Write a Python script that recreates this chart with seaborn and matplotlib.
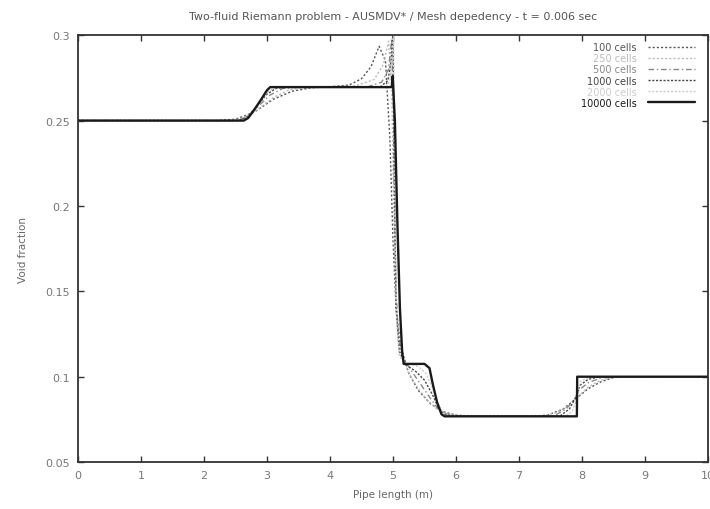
import numpy as np
import pandas as pd
import matplotlib
matplotlib.use("Agg")
import matplotlib.pyplot as plt
import seaborn as sns

# Void fraction along the pipe, one series per mesh size
x_100 = [0.0, 2.2, 2.5, 2.8, 3.1, 3.4, 3.7, 4.0, 4.3, 4.5, 4.65, 4.78, 4.88, 4.95, 5.0,
         5.05, 5.12, 5.25, 5.4, 5.6, 5.8, 6.0, 6.3, 7.2, 7.45, 7.7, 7.9, 8.1, 8.3, 8.5, 8.7, 10.0]
y_100 = [0.25, 0.25, 0.2508, 0.255, 0.2625, 0.2672, 0.2692, 0.2698, 0.2708, 0.2745, 0.2815,
         0.2935, 0.285, 0.24, 0.18, 0.14, 0.118, 0.102, 0.092, 0.084, 0.0795, 0.0775, 0.0768,
         0.0768, 0.0775, 0.081, 0.087, 0.093, 0.097, 0.0995, 0.1, 0.1]

x_250 = [0.0, 2.4, 2.6, 2.85, 3.1, 3.35, 3.6, 3.9, 4.4, 4.7, 4.85, 4.93, 4.98, 5.02, 5.06,
         5.12, 5.25, 5.4, 5.55, 5.7, 5.85, 6.05, 7.4, 7.6, 7.8, 7.92, 8.1, 8.3, 8.5, 8.7, 10.0]
y_250 = [0.25, 0.25, 0.2512, 0.2565, 0.2635, 0.268, 0.2695, 0.2698, 0.2703, 0.274, 0.283,
         0.2965, 0.27, 0.18, 0.135, 0.115, 0.102, 0.093, 0.086, 0.081, 0.0785, 0.0772, 0.0772,
         0.079, 0.083, 0.0875, 0.094, 0.098, 0.0997, 0.1, 0.1]

x_500 = [0.0, 2.5, 2.65, 2.85, 3.05, 3.25, 3.5, 4.6, 4.82, 4.93, 4.98, 5.01, 5.04, 5.08,
         5.15, 5.3, 5.45, 5.6, 5.72, 5.85, 6.0, 7.55, 7.75, 7.9, 7.95, 8.1, 8.3, 8.5, 10.0]
y_500 = [0.25, 0.25, 0.2515, 0.258, 0.265, 0.2688, 0.2697, 0.2698, 0.2725, 0.28, 0.298, 0.25,
         0.16, 0.125, 0.112, 0.103, 0.095, 0.087, 0.081, 0.078, 0.077, 0.077, 0.081, 0.088,
         0.092, 0.0965, 0.0993, 0.1, 0.1]

x_1000 = [0.0, 2.55, 2.7, 2.85, 3.0, 3.15, 3.35, 4.8, 4.92, 4.97, 5.0, 5.02, 5.05, 5.1, 5.2,
          5.35, 5.5, 5.62, 5.72, 5.82, 5.95, 7.65, 7.8, 7.92, 7.97, 8.1, 8.3, 10.0]
y_1000 = [0.25, 0.25, 0.2525, 0.259, 0.2655, 0.269, 0.2698, 0.2698, 0.2735, 0.285, 0.302, 0.22,
          0.14, 0.115, 0.107, 0.1035, 0.098, 0.09, 0.082, 0.078, 0.077, 0.077, 0.081, 0.089,
          0.095, 0.0985, 0.1, 0.1]

x_2000 = [0.0, 2.6, 2.72, 2.88, 3.0, 3.12, 3.25, 4.9, 4.96, 4.99, 5.01, 5.03, 5.06, 5.1, 5.2,
          5.4, 5.52, 5.62, 5.72, 5.8, 5.9, 7.75, 7.85, 7.93, 7.97, 8.1, 8.2, 10.0]
y_2000 = [0.25, 0.25, 0.2525, 0.2605, 0.2665, 0.2692, 0.2698, 0.2698, 0.2745, 0.29, 0.302, 0.2,
          0.13, 0.112, 0.108, 0.106, 0.102, 0.094, 0.084, 0.0785, 0.077, 0.077, 0.08, 0.088,
          0.097, 0.0995, 0.1, 0.1]

x_10000 = [0.0, 2.63, 2.7, 2.8, 2.9, 3.0, 3.05, 4.98, 4.995, 5.03, 5.07, 5.11, 5.145, 5.17,
           5.5, 5.58, 5.63, 5.7, 5.77, 5.82, 7.92, 7.925, 10.0]
y_10000 = [0.25, 0.25, 0.2515, 0.2565, 0.262, 0.2678, 0.2696, 0.2696, 0.276, 0.25, 0.19, 0.14,
           0.115, 0.1075, 0.1075, 0.105, 0.096, 0.085, 0.078, 0.0768, 0.0768, 0.1, 0.1]

SERIES = [
    ("100 cells", x_100, y_100, "#555555", (0, (1.5, 1.5)), 1.0),
    ("250 cells", x_250, y_250, "#bbbbbb", (0, (1.5, 1.5)), 1.0),
    ("500 cells", x_500, y_500, "#888888", (0, (4, 2, 1, 2)), 1.0),
    ("1000 cells", x_1000, y_1000, "#444444", (0, (1.5, 1.2)), 1.0),
    ("2000 cells", x_2000, y_2000, "#cccccc", (0, (1.5, 1.2)), 1.0),
    ("10000 cells", x_10000, y_10000, "#1a1a1a", "-", 1.7),
]

sns.set_theme(style="ticks")
plt.rcParams["font.family"] = ["DejaVu Sans"]

fig = plt.figure(figsize=(7.1, 5.1), dpi=100)
ax = fig.add_axes([0.110, 0.092, 0.887, 0.837])

for label, xs, ys, color, ls, lw in SERIES:
    df = pd.DataFrame({"x": xs, "y": ys})
    sns.lineplot(data=df, x="x", y="y", ax=ax, color=color, linestyle=ls,
                 linewidth=lw, label=label, estimator=None, sort=False)

ax.set_xlim(0, 10)
ax.set_ylim(0.05, 0.3)
ax.set_xticks(np.arange(0, 11, 1))
ax.set_yticks([0.05, 0.1, 0.15, 0.2, 0.25, 0.3])
ax.set_yticklabels(["0.05", "0.1", "0.15", "0.2", "0.25", "0.3"])
ax.tick_params(direction="in", top=True, right=True, length=4, width=1,
               labelsize=8, colors="#333333", labelcolor="#777777", pad=6)
for s in ax.spines.values():
    s.set_linewidth(1.3)
    s.set_color("#333333")

ax.set_xlabel("Pipe length (m)", fontsize=7.5, color="#666666", labelpad=6)
ax.set_ylabel("Void fraction", fontsize=7.5, color="#666666", labelpad=12)
ax.set_title("Two-fluid Riemann problem - AUSMDV* / Mesh depedency - t = 0.006 sec",
             fontsize=8, color="#555555", pad=12)

leg = ax.legend(loc="upper right", bbox_to_anchor=(0.99, 1.0), markerfirst=False,
                frameon=False, fontsize=7, handlelength=4.8, labelspacing=0.12,
                handletextpad=1.2, borderaxespad=0.3)
for txt, (_, _, _, color, _, _) in zip(leg.get_texts(), SERIES):
    txt.set_color(color)

fig.savefig("out.png", dpi=100)
